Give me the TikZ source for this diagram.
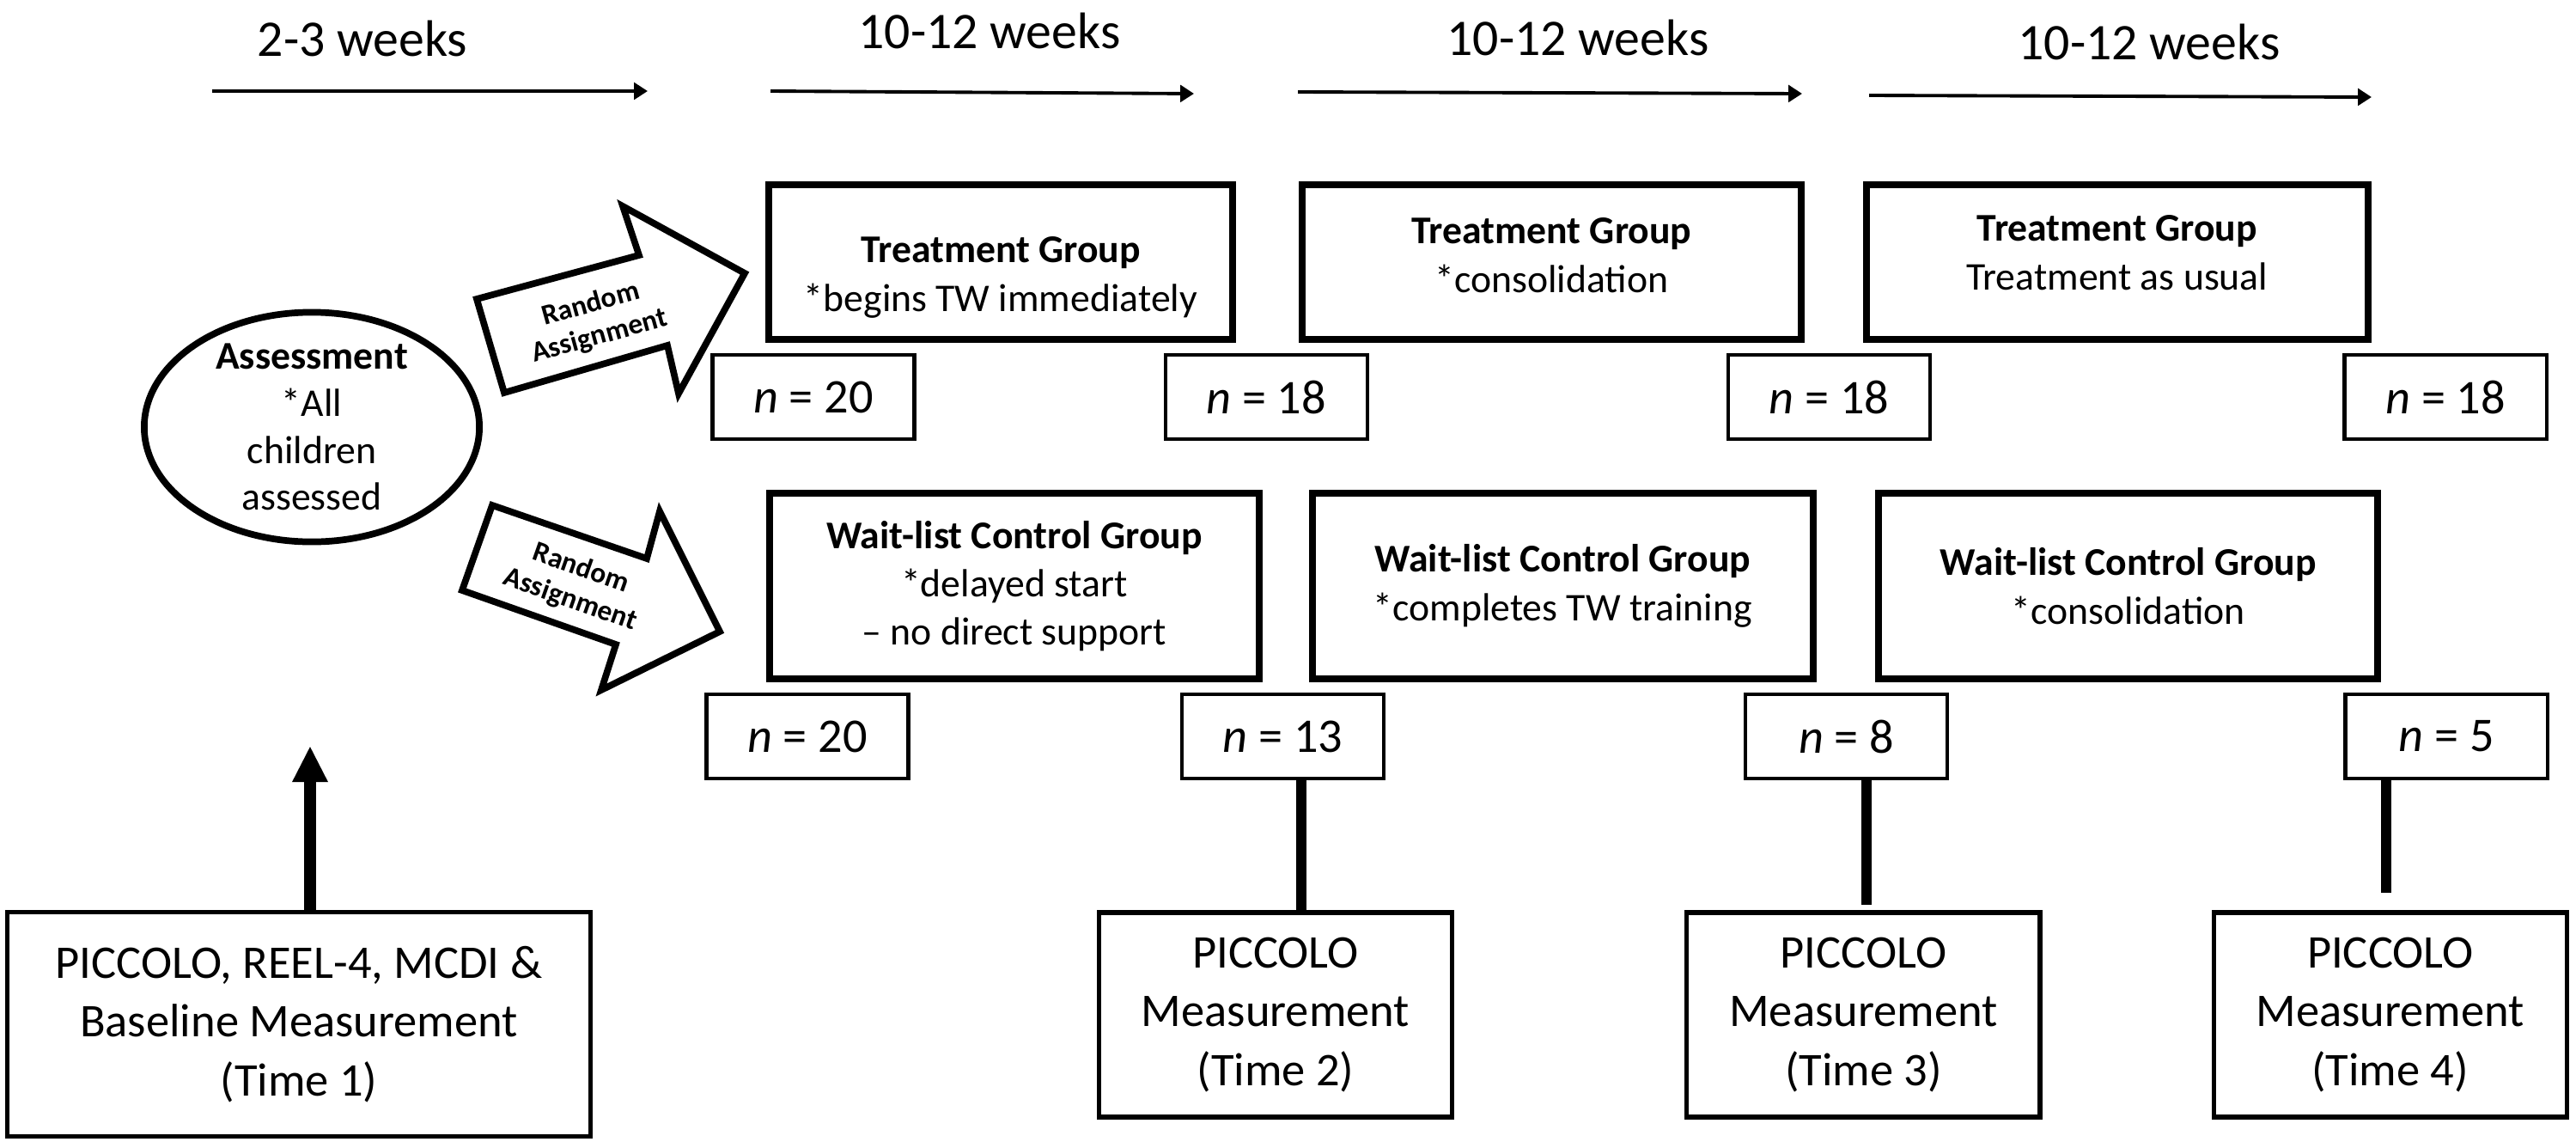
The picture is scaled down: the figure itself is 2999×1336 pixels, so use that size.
\documentclass[tikz,border=0pt]{standalone}
\usepackage{fontspec}
\setmainfont{Carlito}
\usetikzlibrary{positioning,shapes.geometric,arrows.meta}

\begin{document}
\begin{tikzpicture}[x=0.01cm, y=-0.01cm, auto,
    group/.style={rectangle, draw, line width=2.3pt, align=center, minimum height=1.80cm, font=\fontsize{13}{16}\selectfont},
    count/.style={rectangle, draw, line width=1.2pt, minimum width=2.35cm, minimum height=0.98cm, font=\fontsize{16}{19}\selectfont},
    measure/.style={rectangle, draw, line width=1.5pt, align=center, minimum width=4.11cm, minimum height=2.38cm, font=\fontsize{15.5}{19.4}\selectfont},
    assess/.style={ellipse, draw, line width=2.2pt, align=center, inner sep=-12pt, minimum width=3.90cm, minimum height=2.67cm, font=\fontsize{13}{15.6}\selectfont},
    weeks/.style={font=\fontsize{17}{20}\selectfont},
    timeline/.style={line width=1.1pt, -{Triangle[length=4.5pt,width=5.5pt]}},
    randarrow/.style={draw, line width=2.2pt, fill=white},
    randtext/.style={font=\bfseries\fontsize{9.5}{11}\selectfont, align=center},
    stem/.style={line width=3.3pt},
    uparrow/.style={line width=4pt, -{Triangle[length=12pt,width=11pt]}}]
    \useasboundingbox (0,0) rectangle (2999,1336);

    % time periods
    \node [weeks] (wk1) at (422,45) {2-3 weeks};
    \node [weeks] (wk2) at (1152,36) {10-12 weeks};
    \node [weeks] (wk3) at (1837,44) {10-12 weeks};
    \node [weeks] (wk4) at (2502,49) {10-12 weeks};
    \foreach \i/\sx/\sy/\ex/\ey in {1/247/106/754/106, 2/897/106/1390/109, 3/1511/107/2098/109, 4/2176/111/2761/113} {
        \coordinate (s\i) at (\sx,\sy);
        \coordinate (e\i) at (\ex,\ey);
        \draw [timeline] (s\i) -- (e\i);
    }

    % assessment and random assignment
    \node [assess] (assess) at (363,497) {\textbf{Assessment}\\{}*All\\children\\assessed};
    \draw [randarrow] (555,348) -- (744,297) -- (725,240) -- (867,318) -- (790,458) -- (777,402) -- (587,457) -- cycle;
    \node [randtext, rotate=15.5] (ra1) at (693,373) {Random\\Assignment};
    \draw [randarrow] (573,588) -- (753,650) -- (768,595) -- (838,735) -- (700,803) -- (717,750) -- (538,687) -- cycle;
    \node [randtext, rotate=-19.4] (ra2) at (670,680) {Random\\Assignment};

    % treatment group
    \node [group, minimum width=5.40cm] (tg1) at (1165,305) {\rule{0pt}{0.66cm}\textbf{Treatment Group}\\{}*begins TW immediately};
    \node [group, minimum width=5.80cm, node distance=6.41cm, right of=tg1] (tg2) {\textbf{Treatment Group}\\{}*consolidation\rule[-0.16cm]{0pt}{0.16cm}};
    \node [group, minimum width=5.84cm, node distance=6.58cm, right of=tg2] (tg3) {\textbf{Treatment Group}\\Treatment as usual\rule[-0.22cm]{0pt}{0.22cm}};
    \node [count] (na1) at (947,462) {\textit{n} = 20};
    \node [count, node distance=5.27cm, right of=na1] (na2) {\textit{n} = 18};
    \node [count, node distance=6.55cm, right of=na2] (na3) {\textit{n} = 18};
    \node [count, node distance=7.17cm, right of=na3] (na4) {\textit{n} = 18};

    % wait-list control group
    \node [group, minimum width=5.70cm, minimum height=2.16cm] (wl1) at (1181,682) {\textbf{Wait-list Control Group}\\{}*delayed start\\– no direct support};
    \node [group, minimum width=5.83cm, minimum height=2.16cm, node distance=6.38cm, right of=wl1] (wl2) {\textbf{Wait-list Control Group}\\{}*completes TW training};
    \node [group, minimum width=5.81cm, minimum height=2.16cm, node distance=6.58cm, right of=wl2] (wl3) {\textbf{Wait-list Control Group}\\{}*consolidation};
    \node [count] (nb1) at (940,857) {\textit{n} = 20};
    \node [count, node distance=5.53cm, right of=nb1] (nb2) {\textit{n} = 13};
    \node [count, node distance=6.56cm, right of=nb2] (nb3) {\textit{n} = 8};
    \node [count, node distance=6.98cm, right of=nb3] (nb4) {\textit{n} = 5};

    % measurement points
    \node [measure, minimum width=6.79cm, minimum height=2.61cm] (t1) at (348,1192) {PICCOLO, REEL-4, MCDI \&\\Baseline Measurement\\(Time 1)};
    \node [measure] (t2) at (1485,1181) {PICCOLO\\Measurement\\(Time 2)};
    \node [measure, node distance=6.84cm, right of=t2] (t3) {PICCOLO\\Measurement\\(Time 3)};
    \node [measure, node distance=6.13cm, right of=t3] (t4) {PICCOLO\\Measurement\\(Time 4)};

    \coordinate (t1tip) at (361,868);
    \coordinate (s2top) at ([xshift=0.215cm]nb2.south);
    \coordinate (s3top) at ([xshift=0.235cm]nb3.south);
    \coordinate (s4top) at ([xshift=-0.70cm]nb4.south);
    \draw [uparrow] (t1.north -| t1tip) -- (t1tip);
    \draw [stem] (s2top) -- (s2top |- t2.north);
    \draw [stem, shorten >=0.06cm] (s3top) -- (s3top |- t3.north);
    \draw [stem, shorten >=0.20cm] (s4top) -- (s4top |- t4.north);
\end{tikzpicture}
\end{document}
